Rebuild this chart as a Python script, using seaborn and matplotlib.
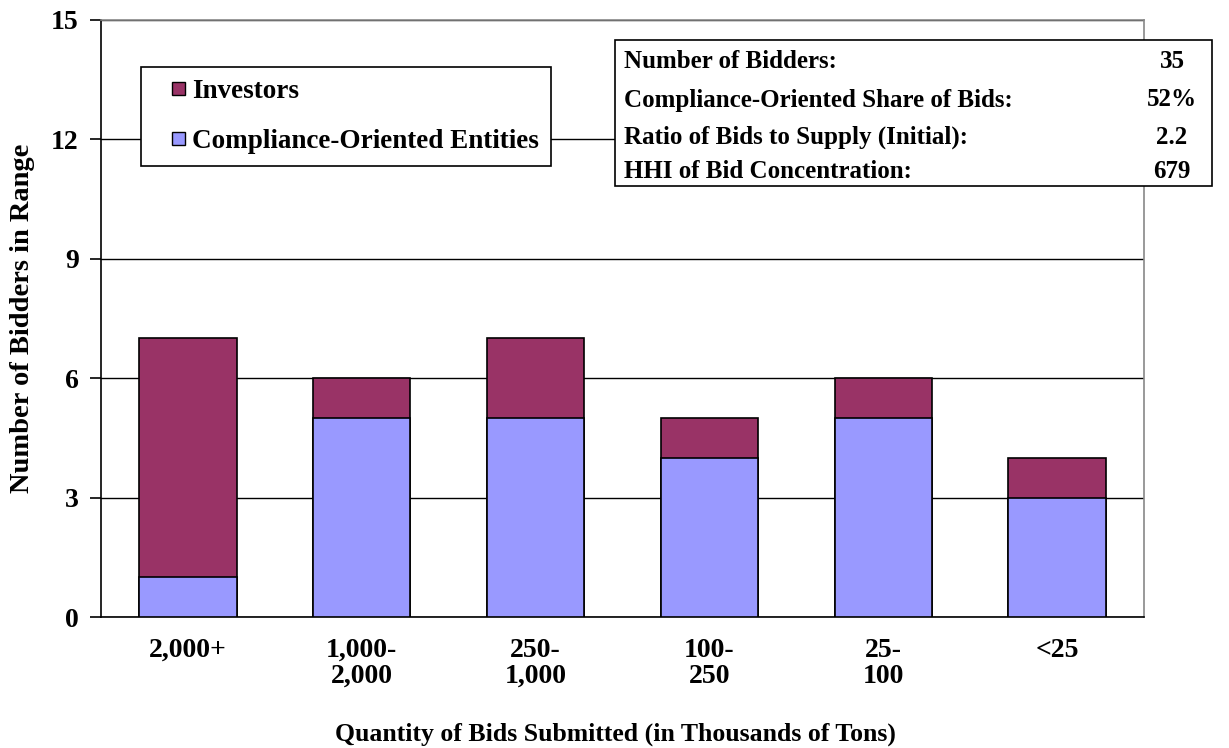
import matplotlib
matplotlib.use("Agg")
import matplotlib.pyplot as plt
from matplotlib.patches import Patch, Rectangle
from matplotlib.legend_handler import HandlerPatch
import seaborn as sns
import pandas as pd

# Data.
ranges = ["2,000+", "1,000-\n2,000", "250-\n1,000", "100-\n250", "25-\n100", "<25"]
compliance = [1, 5, 5, 4, 5, 3]
investors = [6, 1, 2, 1, 1, 1]
stat_labels = [
    "Number of Bidders:",
    "Compliance-Oriented Share of Bids:",
    "Ratio of Bids to Supply (Initial):",
    "HHI of Bid Concentration:",
]
stat_values = ["35", "52%", "2.2", "679"]

COMPLIANCE_COLOR = "#9999FF"
INVESTOR_COLOR = "#993366"

sns.set_style("white")
plt.rcParams["font.family"] = ["Liberation Serif", "DejaVu Serif"]
plt.rcParams["font.weight"] = "bold"
for key in ["text.color", "axes.labelcolor", "xtick.color", "ytick.color"]:
    plt.rcParams[key] = "black"

TICK_FS = 20
LEG_FS = 19.5
STAT_FS = 18
XLAB_FS = 18.5
YLAB_FS = 20.5

df = pd.DataFrame({
    "Range": ranges,
    "Compliance": compliance,
    "Total": [c + i for c, i in zip(compliance, investors)],
})

fig = plt.figure(figsize=(12.29, 7.48), dpi=100)
ax = fig.add_axes([0.0822, 0.1751, 0.8487, 0.7982])

# Stacked bars: draw the totals in the investor colour, then the compliance part over it.
sns.barplot(data=df, x="Range", y="Total", color=INVESTOR_COLOR, saturation=1,
            width=0.56, edgecolor="black", linewidth=1.2, ax=ax, zorder=3)
sns.barplot(data=df, x="Range", y="Compliance", color=COMPLIANCE_COLOR, saturation=1,
            width=0.56, edgecolor="black", linewidth=1.2, ax=ax, zorder=4)

ax.set_xlim(-0.5, len(ranges) - 0.5)
ax.set_ylim(0, 15)
ax.set_yticks([0, 3, 6, 9, 12, 15])
ax.yaxis.grid(True, color="black", linewidth=1.0, zorder=0)
ax.set_axisbelow(True)

# x ticks sit on the category boundaries
ax.set_xticks([i - 0.5 for i in range(len(ranges) + 1)], minor=True)
ax.tick_params(axis="x", which="major", length=0, pad=15, labelsize=TICK_FS)
ax.tick_params(axis="x", which="minor", length=8, width=1.2, color="black", direction="out")
ax.tick_params(axis="y", length=8, width=1.2, color="black", direction="out", pad=8,
               labelsize=TICK_FS, left=True)
for lab in ax.get_xticklabels() + ax.get_yticklabels():
    lab.set_fontweight("bold")
for lab in ax.get_xticklabels():
    lab.set_linespacing(1.05)

for side in ["left", "bottom"]:
    ax.spines[side].set_color("black")
    ax.spines[side].set_linewidth(1.2)
for side in ["top", "right"]:
    ax.spines[side].set_visible(True)
    ax.spines[side].set_color("#888888")
    ax.spines[side].set_linewidth(1.2)

ax.set_xlabel("Quantity of Bids Submitted (in Thousands of Tons)", fontsize=XLAB_FS,
              fontweight="bold")
ax.xaxis.set_label_coords(0.493, -(741 - 617) / 597)
ax.xaxis.label.set_va("baseline")
ax.set_ylabel("Number of Bidders in Range", fontsize=YLAB_FS, fontweight="bold")
ax.yaxis.set_label_coords(-(101 - 22) / 1043, 0.5)
ax.yaxis.label.set_va("center")


def small_square(legend, orig_handle, xdescent, ydescent, width, height, fontsize):
    s = 13 * 72 / 100  # legend handle coords are in points
    return Rectangle((-xdescent + width - s, -ydescent + (height - s) / 2), s, s)


handles = [
    Patch(facecolor=INVESTOR_COLOR, edgecolor="black", label="Investors"),
    Patch(facecolor=COMPLIANCE_COLOR, edgecolor="black", label="Compliance-Oriented Entities"),
]
leg = ax.legend(handles=handles, loc="upper left", bbox_to_anchor=(0.038, 0.921),
                frameon=True, fancybox=False, edgecolor="black", framealpha=1,
                prop={"size": LEG_FS, "weight": "bold"}, handlelength=1.2,
                handleheight=0.7, handletextpad=0.25, labelspacing=0.9,
                borderpad=0.45, borderaxespad=0,
                handler_map={Patch: HandlerPatch(patch_func=small_square)})
leg.get_frame().set_linewidth(1.2)
leg.set_zorder(6)

# Summary statistics box (extends past the plot area on the right)
fig.patches.append(Rectangle((0.5004, 0.7513), 0.4858, 0.1952, transform=fig.transFigure,
                             facecolor="white", edgecolor="black", linewidth=1.2, zorder=5))
row_y = [748 - 62, 748 - 100, 748 - 137, 748 - 172]
for label, value, y in zip(stat_labels, stat_values, row_y):
    fig.text(624 / 1229, y / 748, label, ha="left", va="center", fontsize=STAT_FS,
             fontweight="bold", zorder=6)
    fig.text(1172 / 1229, y / 748, value, ha="center", va="center", fontsize=STAT_FS,
             fontweight="bold", zorder=6)

fig.savefig("out.png", dpi=100)
